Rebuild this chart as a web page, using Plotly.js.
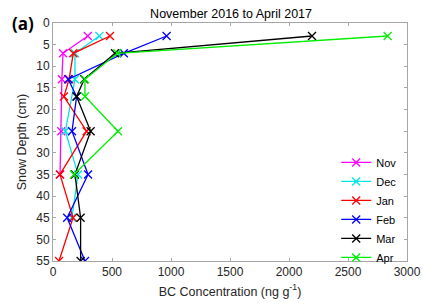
<!DOCTYPE html>
<html><head><meta charset="utf-8">
<script src="https://cdn.plot.ly/plotly-3.0.1.min.js"></script>
<style>html,body{margin:0;padding:0;background:#fff}#chart{width:424px;height:307px}</style>
</head><body><div id="chart"></div>
<script>
const months = ["Nov","Dec","Jan","Feb","Mar","Apr"];
const colors = ["#ff00ff","#00e5e5","#ff0000","#0000ff","#000000","#00ee00"];
const depthNov = [3,7,13,25,35];
const bcNov = [295,85,75,70,60];
const depthDec = [3,7,13,25,35,45];
const bcDec = [393,186,186,105,212,160];
const depthJan = [3,7,13,17,25,35,45,55];
const bcJan = [483,172,136,93,285,59,170,51];
const depthFeb = [3,7,13,17,25,35,45,55];
const bcFeb = [963,600,129,200,161,297,120,271];
const depthMar = [3,7,13,17,25,35,45,55];
const bcMar = [2195,525,265,200,319,186,234,234];
const depthApr = [3,7,13,17,25,35];
const bcApr = [2836,545,271,271,551,178];

const depths = [depthNov,depthDec,depthJan,depthFeb,depthMar,depthApr];
const vals = [bcNov,bcDec,bcJan,bcFeb,bcMar,bcApr];

const traces = months.map((m,i)=>({
  x: vals[i], y: depths[i], name: m, type:'scatter', mode:'lines+markers',
  line:{color:colors[i], width:1.3},
  marker:{symbol:'x-thin-open', size:8, color:colors[i], line:{color:colors[i], width:1.3}}
}));

const axisCommon = {
  showline:true, mirror:'ticks', linecolor:'#a6a6a6', linewidth:1,
  ticks:'inside', ticklen:3, tickcolor:'#a6a6a6',
  showgrid:false, zeroline:false,
  tickfont:{family:'Arial, Liberation Sans, sans-serif', size:12, color:'#262626'}
};

const layout = {
  width:424, height:307,
  margin:{l:53, r:17, t:23, b:46},
  paper_bgcolor:'#fff', plot_bgcolor:'#fff',
  title:{text:'November 2016 to April 2017', x:0.545, xanchor:'center', y:0.955, yanchor:'middle',
    font:{family:'Arial, Liberation Sans, sans-serif', size:12.5, color:'#000'}},
  xaxis: Object.assign({}, axisCommon, {
    range:[0,3000], tickvals:[0,500,1000,1500,2000,2500,3000],
    title:{text:'BC Concentration (ng g<sup>-1</sup>)', standoff:8,
      font:{family:'Arial, Liberation Sans, sans-serif', size:12.5, color:'#262626'}}
  }),
  yaxis: Object.assign({}, axisCommon, {
    range:[55,0], tickvals:[0,5,10,15,20,25,30,35,40,45,50,55],
    title:{text:'Snow Depth (cm)', standoff:6,
      font:{family:'Arial, Liberation Sans, sans-serif', size:12.5, color:'#262626'}}
  }),
  showlegend:true,
  legend:{x:0.80, y:0.475, xanchor:'left', yanchor:'top', bgcolor:'rgba(255,255,255,0)',
    font:{family:'Arial, Liberation Sans, sans-serif', size:11, color:'#000'},
    tracegroupgap:0},
  annotations:[{text:'<b>(a)</b>', xref:'paper', yref:'paper', x:-0.085, y:1.0, xanchor:'center', yanchor:'middle',
    showarrow:false, font:{family:'Open Sans, Arial, sans-serif', size:17, color:'#000'}}]
};

Plotly.newPlot('chart', traces, layout, {staticPlot:true, displayModeBar:false});
</script></body></html>
